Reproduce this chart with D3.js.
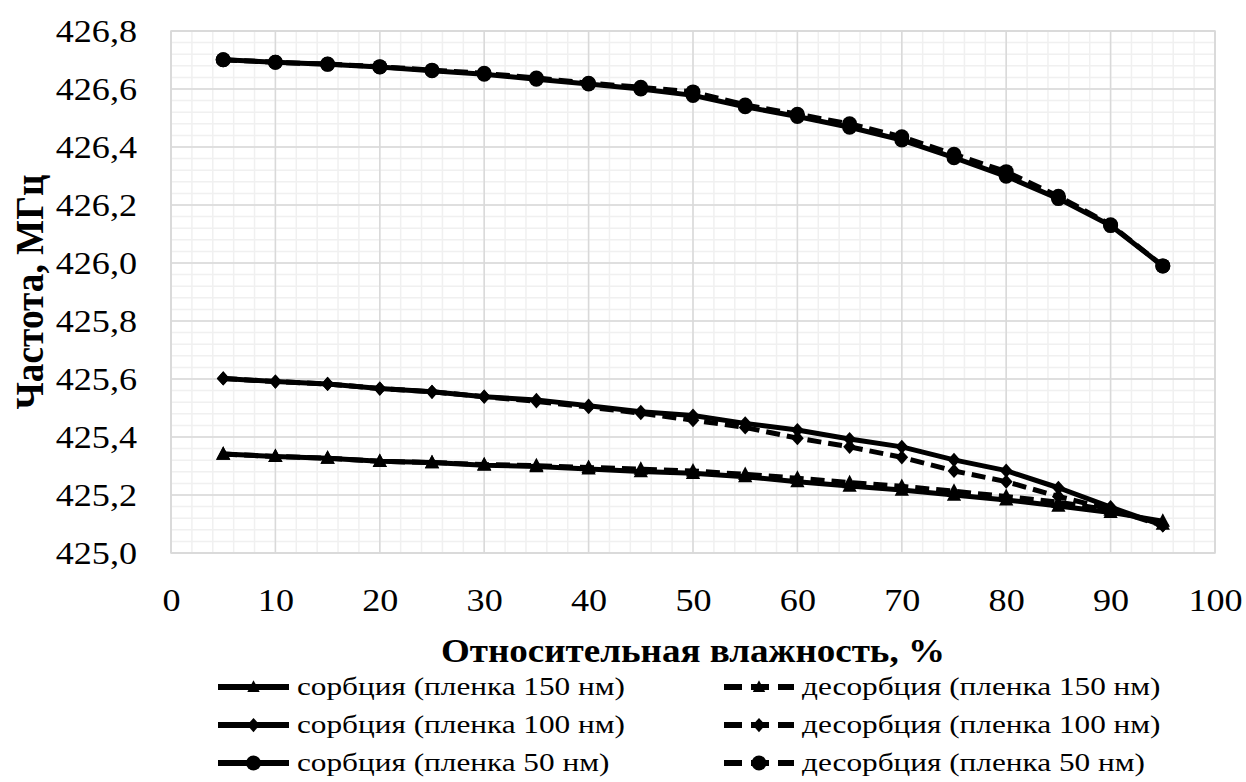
<!DOCTYPE html>
<html>
<head>
<meta charset="utf-8">
<script src="https://d3js.org/d3.v7.min.js"></script>
<style>
  body { margin: 0; background: #fff; }
  svg { display: block; }
  svg text { font-family: "Liberation Serif", "Times New Roman", serif; fill: #000; }
</style>
</head>
<body>
<div id="chart"></div>
<script>
// relative humidity, %
var humidity = [5, 10, 15, 20, 25, 30, 35, 40, 45, 50, 55, 60, 65, 70, 75, 80, 85, 90, 95];

// frequency, MHz
var sorb150 = [425.341, 425.333, 425.327, 425.316, 425.312, 425.303, 425.298, 425.290, 425.281, 425.275,
               425.263, 425.246, 425.231, 425.217, 425.200, 425.183, 425.162, 425.140, 425.110];
var desorb150 = [425.341, 425.333, 425.327, 425.316, 425.312, 425.305, 425.301, 425.295, 425.289, 425.283,
                 425.271, 425.258, 425.243, 425.230, 425.213, 425.195, 425.175, 425.148, 425.100];
var sorb100 = [425.602, 425.591, 425.583, 425.567, 425.556, 425.539, 425.528, 425.508, 425.487, 425.474,
               425.447, 425.424, 425.393, 425.366, 425.321, 425.284, 425.225, 425.158, 425.095];
var desorb100 = [425.602, 425.591, 425.583, 425.567, 425.556, 425.539, 425.523, 425.503, 425.482, 425.458,
                 425.433, 425.396, 425.366, 425.330, 425.283, 425.246, 425.195, 425.150, 425.095];
var sorb50 = [426.701, 426.692, 426.685, 426.676, 426.663, 426.651, 426.634, 426.617, 426.600, 426.578,
              426.539, 426.505, 426.468, 426.424, 426.363, 426.299, 426.222, 426.129, 425.990];
var desorb50 = [426.701, 426.692, 426.686, 426.677, 426.665, 426.654, 426.638, 426.620, 426.606, 426.590,
                426.545, 426.513, 426.480, 426.435, 426.375, 426.315, 426.230, 426.132, 425.990];

var yTicks = [425.0, 425.2, 425.4, 425.6, 425.8, 426.0, 426.2, 426.4, 426.6, 426.8];
var xTicks = [0, 10, 20, 30, 40, 50, 60, 70, 80, 90, 100];

var seriesNames = ["сорбция (пленка 150 нм)", "десорбция (пленка 150 нм)",
                   "сорбция (пленка 100 нм)", "десорбция (пленка 100 нм)",
                   "сорбция (пленка 50 нм)", "десорбция (пленка 50 нм)"];

(function() {
  var series = [
    {name: seriesNames[0], values: sorb150, marker: "triangle", dashed: false},
    {name: seriesNames[1], values: desorb150, marker: "triangle", dashed: true},
    {name: seriesNames[2], values: sorb100, marker: "diamond", dashed: false},
    {name: seriesNames[3], values: desorb100, marker: "diamond", dashed: true},
    {name: seriesNames[4], values: sorb50, marker: "circle", dashed: false},
    {name: seriesNames[5], values: desorb50, marker: "circle", dashed: true}
  ];

  var W = 1246, H = 782;
  var pl = 171, pr = 1215, pt = 31, pb = 553;
  var fmt = function(v) { return v.toFixed(1).replace(".", ","); };

  // the reference text is wider than plain Times; stretch it horizontally
  function stretch(sel, k) {
    sel.each(function() {
      var w = this.getComputedTextLength();
      d3.select(this).attr("textLength", w * k).attr("lengthAdjust", "spacingAndGlyphs");
    });
  }

  var svg = d3.select("#chart").append("svg")
      .attr("width", W)
      .attr("height", H)
      .style("background-color", "white");

  var x = d3.scaleLinear().domain([0, 100]).range([pl, pr]);
  var y = d3.scaleLinear().domain([425.0, 426.8]).range([pb, pt]);

  // minor grid
  var grid = svg.append("g").attr("class", "grid");
  grid.selectAll("line.xminor")
      .data(d3.range(0, 51).map(function(i) { return i * 2; }))
      .enter().append("line")
      .attr("x1", function(d) { return x(d); })
      .attr("x2", function(d) { return x(d); })
      .attr("y1", pt).attr("y2", pb)
      .attr("stroke", "#f0f0f0").attr("stroke-width", 1.5);
  grid.selectAll("line.yminor")
      .data(d3.range(0, 46).map(function(i) { return 425.0 + i * 0.04; }))
      .enter().append("line")
      .attr("x1", pl).attr("x2", pr)
      .attr("y1", function(d) { return y(d); })
      .attr("y2", function(d) { return y(d); })
      .attr("stroke", "#f0f0f0").attr("stroke-width", 1.5);

  // major grid
  grid.selectAll("line.xmajor")
      .data(xTicks)
      .enter().append("line")
      .attr("x1", function(d) { return x(d); })
      .attr("x2", function(d) { return x(d); })
      .attr("y1", pt).attr("y2", pb)
      .attr("stroke", "#d9d9d9").attr("stroke-width", 1.5);
  grid.selectAll("line.ymajor")
      .data(yTicks)
      .enter().append("line")
      .attr("x1", pl).attr("x2", pr)
      .attr("y1", function(d) { return y(d); })
      .attr("y2", function(d) { return y(d); })
      .attr("stroke", "#d9d9d9").attr("stroke-width", 1.5);

  svg.append("rect")
      .attr("x", pl).attr("y", pt)
      .attr("width", pr - pl).attr("height", pb - pt)
      .attr("fill", "none").attr("stroke", "#d9d9d9").attr("stroke-width", 1.5);

  // axes
  var xAxis = svg.append("g")
      .attr("transform", "translate(0," + pb + ")")
      .call(d3.axisBottom(x).tickValues(xTicks).tickSize(0).tickPadding(35));
  var yAxis = svg.append("g")
      .attr("transform", "translate(" + pl + ",0)")
      .call(d3.axisLeft(y).tickValues(yTicks).tickFormat(fmt).tickSize(0).tickPadding(34));
  [xAxis, yAxis].forEach(function(a) {
    a.select(".domain").remove();
    a.selectAll("text")
        .attr("font-family", null)
        .style("font-size", "32px")
        .attr("fill", "#000");
    stretch(a.selectAll("text"), 1.13);
  });

  svg.append("text")
      .attr("x", (pl + pr) / 2)
      .attr("y", 662)
      .attr("text-anchor", "middle")
      .attr("textLength", 504)
      .attr("lengthAdjust", "spacingAndGlyphs")
      .style("font-size", "33px")
      .style("font-weight", "bold")
      .text("Относительная влажность, %");

  svg.append("text")
      .attr("transform", "translate(43," + ((pt + pb) / 2) + ") rotate(-90) scale(1,1.3)")
      .attr("text-anchor", "middle")
      .attr("textLength", 235)
      .attr("lengthAdjust", "spacingAndGlyphs")
      .style("font-size", "31px")
      .style("font-weight", "bold")
      .text("Частота, МГц");

  function markerPath(type, s) {
    if (type === "triangle") {
      return "M0," + (-s * 1.05) + "L" + (s * 0.95) + "," + (s * 0.75) + "L" + (-s * 0.95) + "," + (s * 0.75) + "Z";
    } else if (type === "diamond") {
      return "M0," + (-s * 0.95) + "L" + (s * 0.85) + ",0L0," + (s * 0.95) + "L" + (-s * 0.85) + ",0Z";
    }
    var r = s;
    return "M" + (-r) + ",0A" + r + "," + r + " 0 1,0 " + r + ",0A" + r + "," + r + " 0 1,0 " + (-r) + ",0Z";
  }

  var line = d3.line()
      .x(function(d) { return x(d[0]); })
      .y(function(d) { return y(d[1]); });

  // dashed first, solid on top
  var order = [1, 3, 5, 0, 2, 4];
  var lines = svg.append("g").attr("class", "lines");
  order.forEach(function(i) {
    var s = series[i];
    var pts = humidity.map(function(h, k) { return [h, s.values[k]]; });
    var g = lines.append("g");
    g.append("path")
        .datum(pts)
        .attr("d", line)
        .attr("fill", "none")
        .attr("stroke", "#000")
        .attr("stroke-width", 5)
        .attr("stroke-linejoin", "round")
        .attr("stroke-dasharray", s.dashed ? "14,7" : null);
    g.selectAll("path.m")
        .data(pts)
        .enter().append("path")
        .attr("d", markerPath(s.marker, 7.5))
        .attr("transform", function(d) { return "translate(" + x(d[0]) + "," + y(d[1]) + ")"; })
        .attr("fill", "#000");
  });

  // legend
  var legend = svg.append("g").attr("class", "legend");
  var rows = [687, 725, 763];
  series.forEach(function(s, i) {
    var col = i % 2, row = Math.floor(i / 2);
    var lx = col === 0 ? 218 : 724;
    var lw = col === 0 ? 71 : 70;
    var g = legend.append("g").attr("transform", "translate(" + lx + "," + rows[row] + ")");
    g.append("line")
        .attr("x1", 0).attr("x2", lw)
        .attr("y1", 0).attr("y2", 0)
        .attr("stroke", "#000")
        .attr("stroke-width", 6)
        .attr("stroke-dasharray", s.dashed ? "18,9" : null);
    g.append("path")
        .attr("d", markerPath(s.marker, s.marker === "triangle" ? 6.5 : 7.5))
        .attr("transform", "translate(" + (lw / 2) + ",0)")
        .attr("fill", "#000");
    var t = g.append("text")
        .attr("x", lw + 8)
        .attr("y", 0)
        .attr("dy", "0.33em")
        .style("font-size", "25px")
        .text(s.name);
    stretch(t, 1.25);
  });
})();
</script>
</body>
</html>
